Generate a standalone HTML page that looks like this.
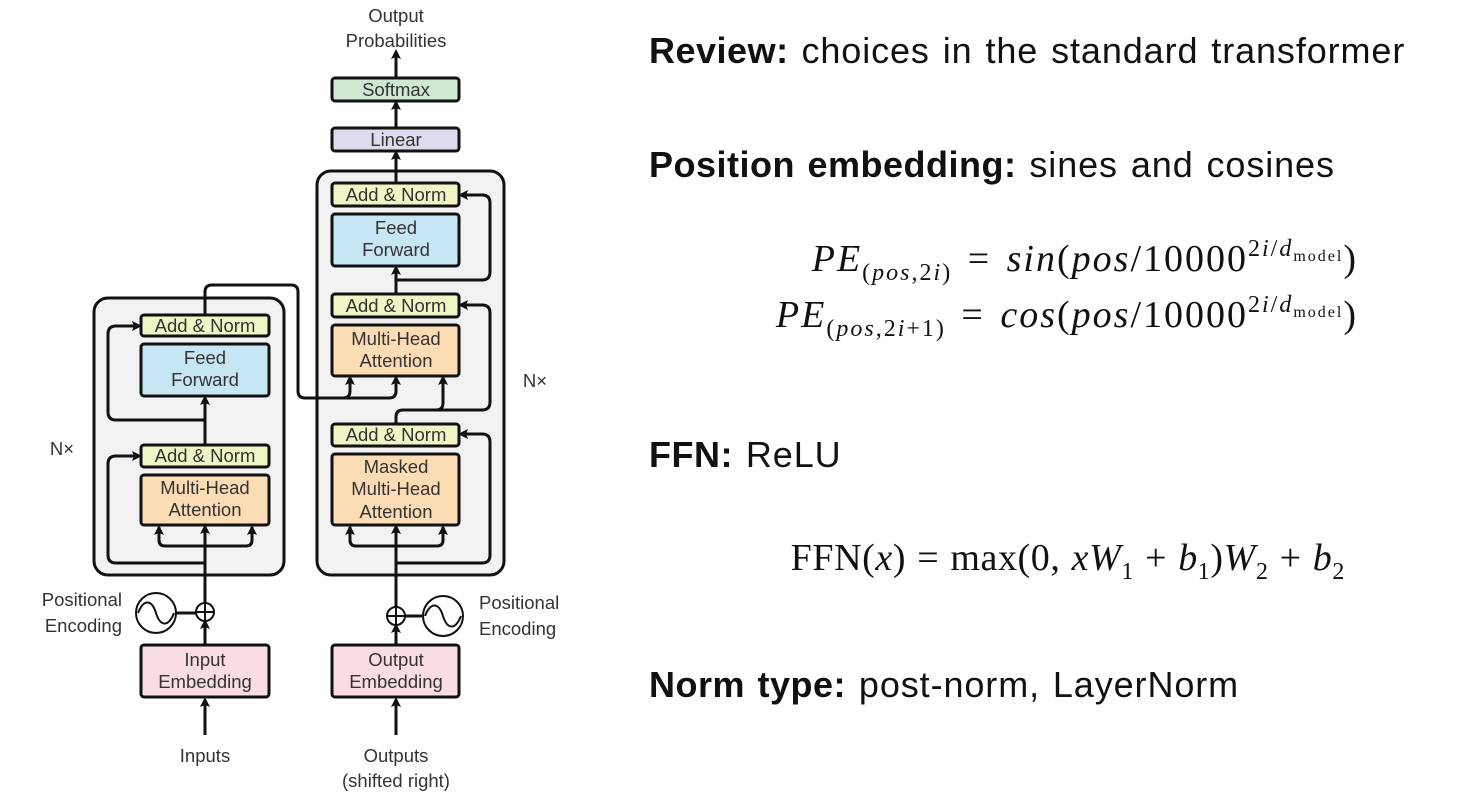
<!DOCTYPE html>
<html><head><meta charset="utf-8"><style>
body{margin:0;width:1465px;height:808px;background:#fff;overflow:hidden;position:relative;font-family:"Liberation Sans",sans-serif}
.t{position:absolute;font-size:36px;letter-spacing:0.9px;word-spacing:2px;color:#111;white-space:nowrap;left:649px}
.t b{font-weight:bold;letter-spacing:0.5px}
.f{position:absolute;font-family:"Liberation Serif",serif;font-size:38px;letter-spacing:2px;word-spacing:4px;color:#111;white-space:nowrap;right:107px}
.f i{font-style:italic}
.f sub,.f sup{font-size:24px}
.f sub{vertical-align:-9px}
.f sup{vertical-align:15px}
.f sup sub{font-size:16px;vertical-align:-5px;font-style:normal}
.g{letter-spacing:0.6px;word-spacing:1px}
</style></head><body>
<svg width="600" height="808" style="position:absolute;left:0;top:0" font-family="Liberation Sans, sans-serif" font-size="18.5" fill="#333">
<defs><marker id="a" markerWidth="10" markerHeight="10" refX="7" refY="5" orient="auto" markerUnits="userSpaceOnUse"><path d="M0,0 L10,5 L0,10 L2,5 Z" fill="#111"/></marker></defs>
<g stroke="#111" stroke-width="3" fill="none">
<rect x="94" y="298" width="190" height="277" rx="14" fill="#f2f2f2"/>
<rect x="317" y="171" width="187" height="404" rx="14" fill="#f2f2f2"/>
</g>
<g stroke="#111" stroke-width="3" fill="none">
<path d="M205 735 V700" marker-end="url(#a)"/>
<path d="M205 645 V622" marker-end="url(#a)"/>
<path d="M205 603 V527" marker-end="url(#a)"/>
<path d="M159 527 V540 Q159 546 165 546 H246 Q252 546 252 540 V527"/>
<path d="M159 535 V528" marker-end="url(#a)"/><path d="M252 535 V528" marker-end="url(#a)"/>
<path d="M205 563 H116 Q108 563 108 555 V464 Q108 456 116 456 H139" marker-end="url(#a)"/>
<path d="M205 445 V398" marker-end="url(#a)"/>
<path d="M205 420 H116 Q108 420 108 412 V334 Q108 326 116 326 H139" marker-end="url(#a)"/>
<path d="M205 315 V292 Q205 285 212 285 H291 Q298 285 298 292 V391 Q298 398 305 398 H343 Q350 398 350 391 V378" marker-end="url(#a)"/>
<path d="M340 398 H389 Q396 398 396 391 V378" marker-end="url(#a)"/>
<line x1="176" y1="613" x2="196" y2="613"/>
<path d="M396 735 V700" marker-end="url(#a)"/>
<path d="M396 645 V626" marker-end="url(#a)"/>
<path d="M396 607 V527" marker-end="url(#a)"/>
<path d="M350 527 V540 Q350 546 356 546 H437 Q443 546 443 540 V527"/>
<path d="M350 535 V528" marker-end="url(#a)"/><path d="M443 535 V528" marker-end="url(#a)"/>
<path d="M396 563 H482 Q490 563 490 555 V442 Q490 434 482 434 H461" marker-end="url(#a)"/>
<path d="M396 424 V417 Q396 410 403 410 H482 Q490 410 490 402 V313 Q490 305 482 305 H461" marker-end="url(#a)"/>
<path d="M403 410 H436 Q443 410 443 403 V378" marker-end="url(#a)"/>
<path d="M396 294 V268" marker-end="url(#a)"/>
<path d="M396 280 H482 Q490 280 490 272 V203 Q490 195 482 195 H461" marker-end="url(#a)"/>
<path d="M396 183 V153" marker-end="url(#a)"/>
<path d="M396 128 V103" marker-end="url(#a)"/>
<path d="M396 78 V52" marker-end="url(#a)"/>
<line x1="405" y1="616" x2="423" y2="616"/>
</g>
<g stroke="#111" stroke-width="3">
<rect x="141" y="315" width="128" height="21" rx="3" fill="#f1f4c4"/>
<rect x="141" y="344" width="128" height="52" rx="3" fill="#c6e6f4"/>
<rect x="141" y="445" width="128" height="22" rx="3" fill="#f1f4c4"/>
<rect x="141" y="475" width="128" height="50" rx="3" fill="#fcdcb4"/>
<rect x="141" y="645" width="128" height="52" rx="3" fill="#f9dde1"/>
<rect x="332" y="183" width="127" height="23" rx="3" fill="#f1f4c4"/>
<rect x="332" y="214" width="127" height="52" rx="3" fill="#c6e6f4"/>
<rect x="332" y="294" width="127" height="23" rx="3" fill="#f1f4c4"/>
<rect x="332" y="325" width="127" height="51" rx="3" fill="#fcdcb4"/>
<rect x="332" y="424" width="127" height="22" rx="3" fill="#f1f4c4"/>
<rect x="332" y="454" width="127" height="71" rx="3" fill="#fcdcb4"/>
<rect x="332" y="645" width="127" height="52" rx="3" fill="#f9dde1"/>
<rect x="332" y="128" width="127" height="23" rx="3" fill="#dcdcee"/>
<rect x="332" y="78" width="127" height="23" rx="3" fill="#cfe8d2"/>
</g>
<g stroke="#111" stroke-width="2" fill="#fff">
<circle cx="205" cy="612" r="9"/><circle cx="396" cy="616" r="9"/>
<circle cx="156" cy="613" r="20"/><circle cx="443" cy="616" r="20"/>
</g>
<g stroke="#111" stroke-width="2" fill="none">
<path d="M196 612 H214 M205 603 V621 M387 616 H405 M396 607 V625"/>
<path d="M138 613 C144 598 152 600 156 613 C160 626 168 628 174 613"/>
<path d="M425 616 C431 601 439 603 443 616 C447 629 455 631 461 616"/>
</g>
<g text-anchor="middle">
<text x="205" y="332">Add &amp; Norm</text>
<text x="205" y="364">Feed</text><text x="205" y="386">Forward</text>
<text x="205" y="462">Add &amp; Norm</text>
<text x="205" y="494">Multi-Head</text><text x="205" y="516">Attention</text>
<text x="205" y="666">Input</text><text x="205" y="688">Embedding</text>
<text x="205" y="762">Inputs</text>
<text x="396" y="201">Add &amp; Norm</text>
<text x="396" y="234">Feed</text><text x="396" y="256">Forward</text>
<text x="396" y="312">Add &amp; Norm</text>
<text x="396" y="345">Multi-Head</text><text x="396" y="367">Attention</text>
<text x="396" y="441">Add &amp; Norm</text>
<text x="396" y="473">Masked</text><text x="396" y="495">Multi-Head</text><text x="396" y="518">Attention</text>
<text x="396" y="666">Output</text><text x="396" y="688">Embedding</text>
<text x="396" y="146">Linear</text>
<text x="396" y="96">Softmax</text>
<text x="396" y="22">Output</text><text x="396" y="47">Probabilities</text>
<text x="396" y="762">Outputs</text><text x="396" y="787">(shifted right)</text>
<text x="62" y="455">N×</text><text x="535" y="387">N×</text>
</g>
<text x="122" y="606" text-anchor="end">Positional</text>
<text x="122" y="632" text-anchor="end">Encoding</text>
<text x="479" y="609">Positional</text>
<text x="479" y="635">Encoding</text>
</svg>
<div class="t" style="top:30px"><b>Review:</b> choices in the standard transformer</div>
<div class="t" style="top:144px"><b>Position embedding:</b> sines and cosines</div>
<div class="f" style="top:236px"><i>PE</i><sub>(<i>pos</i>,2<i>i</i>)</sub> = <i>sin</i>(<i>pos</i>/10000<sup>2<i>i</i>/<i>d</i><sub>model</sub></sup>)</div>
<div class="f" style="top:292px"><i>PE</i><sub>(<i>pos</i>,2<i>i</i>+1)</sub> = <i>cos</i>(<i>pos</i>/10000<sup>2<i>i</i>/<i>d</i><sub>model</sub></sup>)</div>
<div class="t" style="top:434px"><b>FFN:</b> ReLU</div>
<div class="f g" style="top:536px;right:120px">FFN(<i>x</i>) = max(0, <i>xW</i><sub>1</sub> + <i>b</i><sub>1</sub>)<i>W</i><sub>2</sub> + <i>b</i><sub>2</sub></div>
<div class="t" style="top:664px"><b>Norm type:</b> post-norm, LayerNorm</div>
</body></html>
